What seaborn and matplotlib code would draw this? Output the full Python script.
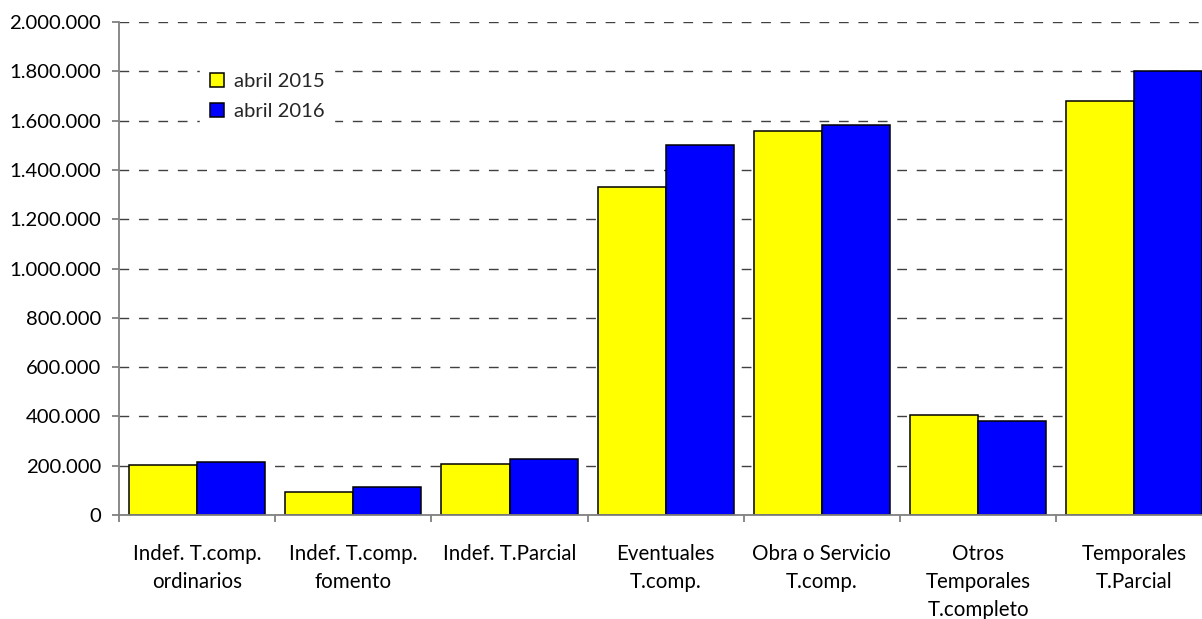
import matplotlib
matplotlib.use("Agg")
import matplotlib.pyplot as plt
import seaborn as sns
import pandas as pd
from matplotlib.ticker import FuncFormatter, FixedLocator, MultipleLocator

categories = ["Indef. T.comp.\nordinarios", "Indef. T.comp.\nfomento", "Indef. T.Parcial",
              "Eventuales\nT.comp.", "Obra o Servicio\nT.comp.", "Otros\nTemporales\nT.completo",
              "Temporales\nT.Parcial"]
series_names = ["abril 2015", "abril 2016"]
values_2015 = [202000, 93000, 208000, 1331000, 1558000, 405000, 1678000]
values_2016 = [217000, 115000, 228000, 1503000, 1584000, 380000, 1800000]

df = pd.DataFrame({
    "cat": categories * 2,
    "serie": [series_names[0]] * len(categories) + [series_names[1]] * len(categories),
    "valor": values_2015 + values_2016,
})

sns.set_theme(style="white")
plt.rcParams["font.family"] = ["Lato", "DejaVu Sans"]

fig = plt.figure(figsize=(12.02, 6.19), dpi=100)
ax = fig.add_axes([119/1202, 1 - 515/619, 1 - 119/1202, (515 - 22)/619])

sns.barplot(data=df, x="cat", y="valor", hue="serie", order=categories,
            hue_order=series_names, saturation=1,
            palette={"abril 2015": "#FFFF00", "abril 2016": "#0000FF"},
            width=0.872, edgecolor="black", linewidth=1.1, ax=ax, zorder=3)

ax.set_ylim(0, 2000000)
ax.set_xlim(-0.5, -0.5 + (1202 - 119) / 156.2)
ax.yaxis.set_major_locator(MultipleLocator(200000))
ax.yaxis.set_major_formatter(FuncFormatter(lambda v, p: f"{int(v):,}".replace(",", ".")))
ax.yaxis.grid(True, linestyle=(0, (7, 7)), color="#404040", linewidth=1.0, zorder=0)
ax.set_axisbelow(True)

for s in ["top", "right"]:
    ax.spines[s].set_visible(False)
for s in ["left", "bottom"]:
    ax.spines[s].set_color("#808080")
    ax.spines[s].set_linewidth(1.3)
    ax.spines[s].set_zorder(4)

ax.tick_params(axis="y", which="major", left=True, length=5, width=1.3, color="#808080",
               labelsize=14.6, pad=8, labelcolor="black")
ax.tick_params(axis="x", which="major", bottom=False, labelsize=14.8, pad=15, labelcolor="black")
ax.xaxis.set_minor_locator(FixedLocator([k - 0.5 for k in range(len(categories) + 1)]))
ax.tick_params(axis="x", which="minor", bottom=True, length=5, width=1.3, color="#808080")
for lab in ax.get_xticklabels():
    lab.set_linespacing(1.5)
    lab.set_verticalalignment("top")

ax.set_xlabel("")
ax.set_ylabel("")

leg = ax.legend(loc="upper left", bbox_to_anchor=(71/1083, 1 - 31/493), frameon=True,
                fontsize=14.6, handlelength=0.7, handleheight=0.7, handletextpad=0.45,
                labelspacing=0.6, borderpad=0.5, fancybox=False)
leg.get_frame().set_facecolor("white")
leg.get_frame().set_edgecolor("white")
leg.get_frame().set_alpha(1)
leg.set_zorder(5)
for h in leg.legend_handles:
    h.set_edgecolor("black")
    h.set_linewidth(1.1)

fig.savefig("out.png", dpi=100)
